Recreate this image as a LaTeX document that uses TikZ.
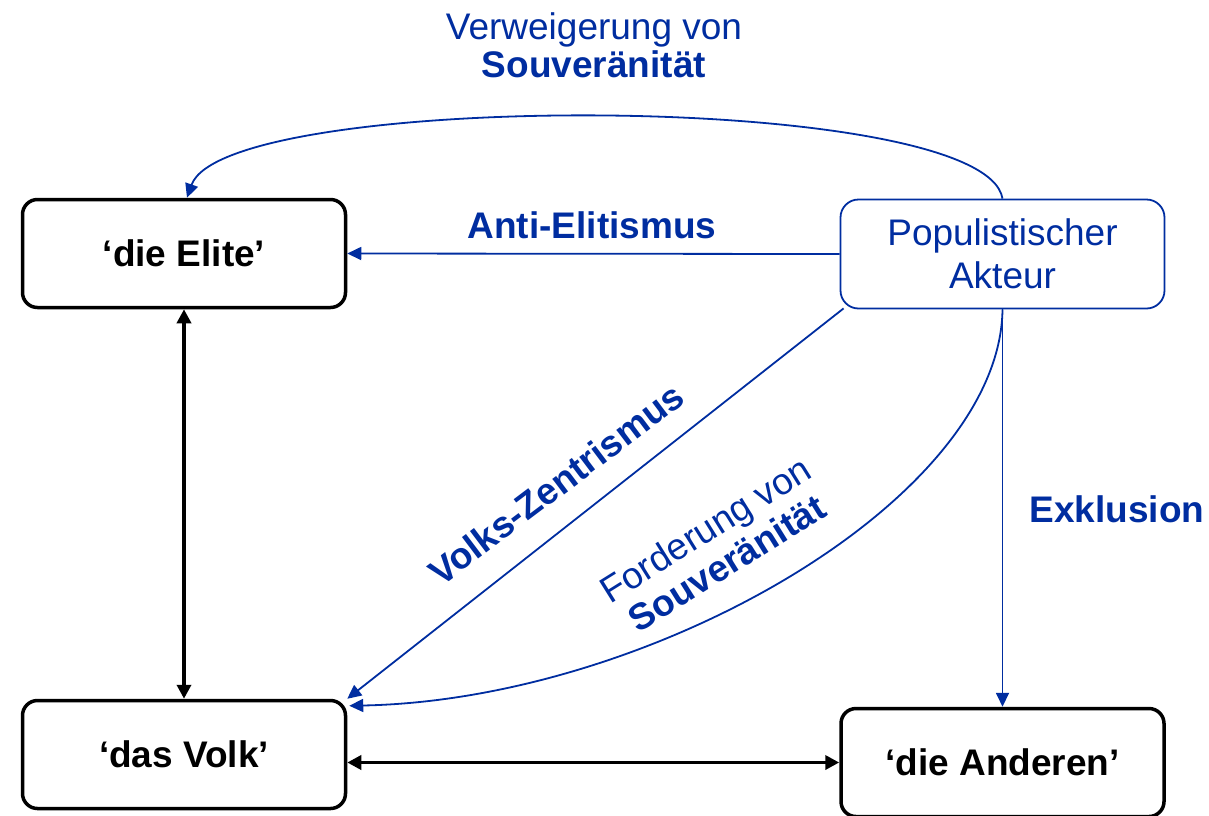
\documentclass[tikz,border=0pt]{standalone}
\usepackage{fontspec}
\setmainfont{Liberation Sans}
\usetikzlibrary{arrows.meta,calc}
\definecolor{pblue}{RGB}{0,45,160}
\begin{document}
\begin{tikzpicture}[x=1pt,y=-1pt,
  box/.style={draw=black,line width=3.5pt,rounded corners=15pt,minimum width=323pt,minimum height=108pt,inner sep=0pt,font=\fontsize{37}{43}\selectfont\bfseries},
  actbox/.style={draw=pblue,line width=1.8pt,rounded corners=18pt,minimum width=324pt,minimum height=109pt,inner sep=0pt,text=pblue,align=center,font=\fontsize{37}{43}\selectfont},
  lbl/.style={text=pblue,align=center,inner sep=0pt,font=\fontsize{37}{38}\selectfont},
  blbl/.style={text=pblue,inner sep=0pt,font=\fontsize{37}{38}\selectfont\bfseries},
  barrow/.style={line width=3.5pt,{Triangle[length=14pt,width=14pt]}-{Triangle[length=14pt,width=14pt]}},
  parrow/.style={draw=pblue,line width=1.8pt,-{Triangle[length=14pt,width=13pt]}}
]
\useasboundingbox (0,0) rectangle (1209,815);
\node[box] (elite) at (184,253.5) {‘die Elite’};
\node[box] (volk) at (184,754.5) {‘das Volk’};
\node[box] (and) at (1002.5,762.5) {‘die Anderen’};
\node[actbox] (akt) at (1002.5,254) {Populistischer\\Akteur};

\draw[barrow] (elite.south) -- (volk.north);
\draw[barrow] (volk.east |- and.west) -- (and.west);
\draw[parrow] (akt.west) -- (elite.east);
\draw[parrow] ($(akt.south west)+(4,-1)$) -- (volk.north east);
\draw[parrow] (akt.south) -- (and.north);
\draw[parrow] (akt.south) .. controls (1000,500) and (650,700) .. ($(volk.north east)+(2,7)$);
\draw[parrow] (akt.north) .. controls (985,90) and (225,90) .. ($(elite.north)+(3,0)$);

\node[lbl] (verw) at (594,45) {Verweigerung von\\\textbf{Souveränität}};
\node[blbl,anchor=base] (anti) at (592,238) {Anti-Elitismus};
\node[blbl,anchor=base] (exkl) at (1117,522) {Exklusion};
\node[blbl,rotate=37] (vz) at (556,484) {Volks-Zentrismus};
\node[lbl,rotate=32,font=\fontsize{37}{40}\selectfont] (ford) at (716,546) {Forderung von\\\textbf{Souveränität}};
\end{tikzpicture}
\end{document}
